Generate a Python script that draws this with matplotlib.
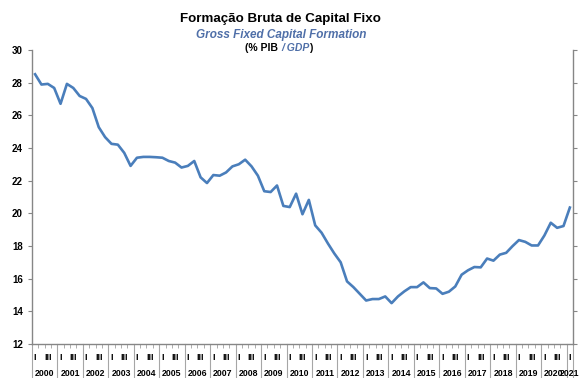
import numpy as np
import matplotlib
matplotlib.use("Agg")
import matplotlib.pyplot as plt

plt.rcParams['font.family'] = ['Liberation Sans', 'DejaVu Sans']

# FBCF em % do PIB, trimestral, 2000 T1 - 2021 T1
years = list(range(2000, 2022))
fbcf = [28.51, 27.88, 27.92, 27.67, 26.70, 27.92, 27.67, 27.18, 27.00, 26.44,
        25.27, 24.66, 24.25, 24.20, 23.70, 22.90, 23.40, 23.45, 23.45, 23.43,
        23.40, 23.20, 23.10, 22.80, 22.90, 23.20, 22.20, 21.85, 22.34, 22.30,
        22.50, 22.87, 23.00, 23.28, 22.87, 22.30, 21.35, 21.30, 21.70, 20.45,
        20.38, 21.20, 19.94, 20.82, 19.26, 18.81, 18.15, 17.54, 17.00, 15.83,
        15.48, 15.07, 14.66, 14.75, 14.75, 14.91, 14.50, 14.91, 15.22, 15.48,
        15.48, 15.77, 15.42, 15.40, 15.07, 15.20, 15.52, 16.24, 16.51, 16.71,
        16.69, 17.23, 17.10, 17.47, 17.58, 17.99, 18.36, 18.25, 18.03, 18.03,
        18.64, 19.42, 19.11, 19.22, 20.35]
quarter_names = ['I', '', 'III', '']

n = len(fbcf)
idx = np.arange(n)

fig = plt.figure(figsize=(5.8, 3.78), dpi=100)
ax = fig.add_axes([0.055, 0.09, 0.933, 0.778])

ax.plot(idx, fbcf, color='#4a7ebb', lw=1.9, solid_joinstyle='round')

ax.set_xlim(-0.5, n - 0.5)
ax.set_ylim(12, 30)
ax.set_yticks(np.arange(12, 31, 2))
ax.tick_params(axis='y', which='major', direction='out', length=3, color='#868686',
               labelsize=7, right=True, left=True)
for lab in ax.get_yticklabels():
    lab.set_fontweight('bold')

grey = '#868686'
for side in ('left', 'right', 'bottom'):
    ax.spines[side].set_color(grey)
    ax.spines[side].set_linewidth(1.0)
ax.spines['top'].set_visible(False)

# marcas trimestrais no eixo x
ax.set_xticks(idx - 0.5, minor=True)
ax.set_xticks([])
ax.tick_params(axis='x', which='minor', direction='out', length=3, color='#a0a0a0',
               width=0.6)

xt = ax.get_xaxis_transform()
for i in idx:
    q = quarter_names[i % 4]
    if q:
        ax.text(i, -0.03, q, transform=xt, ha='center', va='top', fontsize=6.5,
                fontweight='bold')

# separadores e rótulos dos anos
for k, yr in enumerate(years):
    start = 4 * k - 0.5
    ax.plot([start, start], [0, -0.125], transform=xt, color='#a6a6a6', lw=0.8,
            clip_on=False)
    end = min(4 * k + 3.5, n - 0.5)
    ax.text((start + end) / 2, -0.1, str(yr), transform=xt, ha='center',
            va='center', fontsize=6.3, fontweight='bold')
ax.plot([n - 0.5, n - 0.5], [0, -0.125], transform=xt, color='#a6a6a6', lw=0.8,
        clip_on=False)

# títulos
cx = 0.484
fig.text(cx, 0.951, 'Formação Bruta de Capital Fixo', ha='center', va='center',
         fontsize=9.6, fontweight='bold')
fig.text(cx, 0.907, 'Gross Fixed Capital Formation', ha='center', va='center',
         fontsize=8.5, fontweight='bold', style='italic', color='#4f6fa8')

t1 = fig.text(0.4225, 0.873, '(% PIB ', ha='left', va='center', fontsize=7.5,
              fontweight='bold')
t2 = ax.annotate('/ GDP', xy=(1, 0), xycoords=t1, va='bottom', ha='left',
                 fontsize=7.5, fontweight='bold', style='italic', color='#4f6fa8')
ax.annotate(')', xy=(1, 0), xycoords=t2, va='bottom', ha='left', fontsize=7.5,
            fontweight='bold')

fig.savefig('out.png', dpi=100)
